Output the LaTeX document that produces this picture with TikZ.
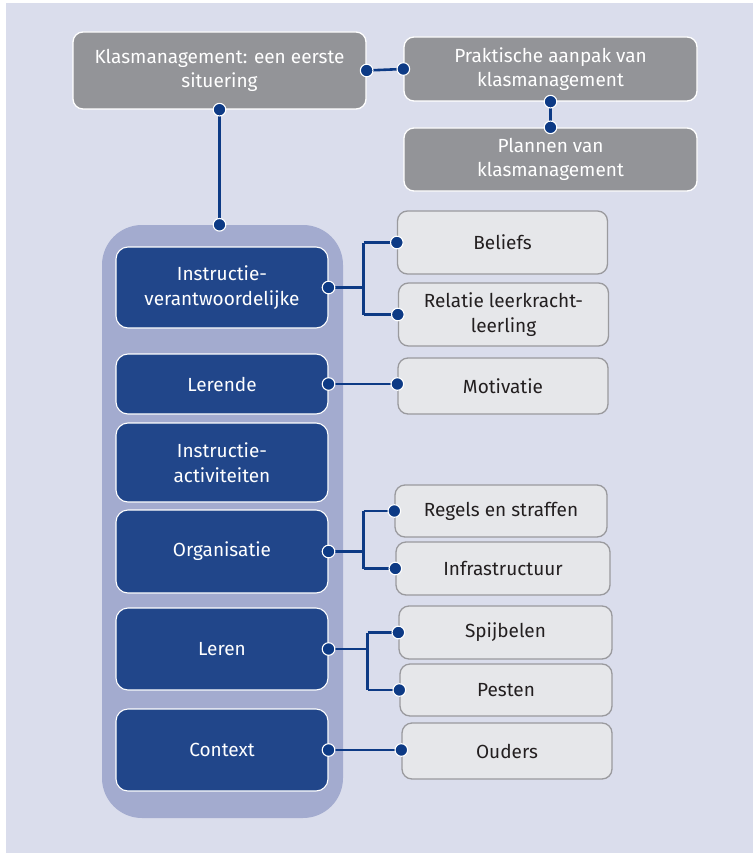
\documentclass[tikz,border=0pt]{standalone}
\usepackage{fontspec}
\setmainfont{Fira Sans}
\usepackage{xcolor}
\usetikzlibrary{positioning,calc}
\definecolor{bgc}{HTML}{DADDEC}
\definecolor{kernc}{HTML}{A3ABCF}
\definecolor{donker}{HTML}{21468A}
\definecolor{grijs}{HTML}{939498}
\definecolor{licht}{HTML}{E6E7EA}
\definecolor{rand}{HTML}{9A9A9E}
\definecolor{lijn}{HTML}{0D3A85}
\definecolor{tekst}{HTML}{231F20}

\begin{document}
\begin{tikzpicture}[x=1pt,y=-1pt,font=\fontsize{19}{24.5}\selectfont,
 g/.style={draw=white,line width=1.3pt,rounded corners=10pt,fill=grijs,text=white,align=center,minimum width=293pt},
 d/.style={draw=white,line width=1.1pt,rounded corners=12pt,fill=donker,text=white,align=center,minimum width=212pt},
 l/.style={draw=rand,line width=1.3pt,rounded corners=10pt,fill=licht,text=tekst,align=center,minimum width=210pt},
 e/.style={draw=lijn,line width=2.6pt},
 dot/.style={fill=lijn,draw=white,line width=1.1pt}]
\useasboundingbox (0,0) rectangle (753,853);
\fill[white] (0,0) rectangle (753,853);
\fill[bgc] (6,3) rectangle (753,853);
% kolom
\node[fill=kernc,rounded corners=40pt,minimum width=241pt,minimum height=593pt,inner sep=0pt] (kern) at (222.5,521.5) {};
% bovenste rij
\node[g,minimum height=77pt] (sit) at (219.5,70.5) {Klasmanagement: een eerste\\situering};
\node[g,minimum height=64pt] (prak) at (550.5,69) {Praktische aanpak van\\klasmanagement};
\node[g,minimum height=63pt] (plan) at (550.5,159.5) {Plannen van\\klasmanagement};
% actoren
\node[d,minimum height=81pt] (iv) at (222,287.5) {Instructie-\\verantwoordelijke};
\node[d,minimum height=60pt] (lrd) at (222,384) {Lerende};
\node[d,minimum height=79pt] (ia) at (222,462.5) {Instructie-\\activiteiten};
\node[d,minimum height=83pt] (org) at (222,551.5) {Organisatie};
\node[d,minimum height=82pt] (lrn) at (222,649) {Leren};
\node[d,minimum height=82pt] (ctx) at (222,750) {Context};
% thema's
\node[l,minimum height=63pt] (bel) at (502.5,242.5) {Beliefs};
\node[l,minimum height=63pt] (rel) at (503.5,314.5) {Relatie leerkracht-\\leerling};
\node[l,minimum height=56pt] (mot) at (503,386) {Motivatie};
\node[l,minimum height=52pt,minimum width=212pt] (reg) at (501,511) {Regels en straffen};
\node[l,minimum height=53pt,minimum width=214pt] (inf) at (503,568.5) {Infrastructuur};
\node[l,minimum height=53pt,minimum width=213pt] (spij) at (505.5,632.5) {Spijbelen};
\node[l,minimum height=52pt,minimum width=212pt] (pes) at (506,690) {Pesten};
\node[l,minimum height=56pt] (oud) at (507,751) {Ouders};
% verbindingen
\draw[e] (sit.east)--(prak.west);
\draw[e] (prak.south)--(plan.north);
\draw[e] (sit.south)--(sit.south |- kern.north);
\draw[e] (iv.east)--++(35,0) coordinate (ivk);
\draw[e] (ivk |- bel.west)--(ivk |- rel.west);
\draw[e] (ivk |- bel.west)--(bel.west);
\draw[e] (ivk |- rel.west)--(rel.west);
\draw[e] (lrd.east)--(lrd.east -| mot.west);
\draw[e] (org.east)--++(35,0) coordinate (ork);
\draw[e] (ork |- reg.west)--(ork |- inf.west);
\draw[e] (ork |- reg.west)--(reg.west);
\draw[e] (ork |- inf.west)--(inf.west);
\draw[e] (lrn.east)--++(39,0) coordinate (lnk);
\draw[e] (lnk |- spij.west)--(lnk |- pes.west);
\draw[e] (lnk |- spij.west)--(spij.west);
\draw[e] (lnk |- pes.west)--(pes.west);
\draw[e] (ctx.east)--(ctx.east -| oud.west);
% stippen
\foreach \p in {sit.east,prak.west,prak.south,plan.north,sit.south,iv.east,bel.west,rel.west,
  lrd.east,org.east,reg.west,inf.west,lrn.east,spij.west,pes.west,ctx.east}
  \draw[dot] (\p) circle (6.3);
\draw[dot] (sit.south |- kern.north) circle (6.3);
\draw[dot] (lrd.east -| mot.west) circle (6.3);
\draw[dot] (ctx.east -| oud.west) circle (6.3);
\end{tikzpicture}
\end{document}
